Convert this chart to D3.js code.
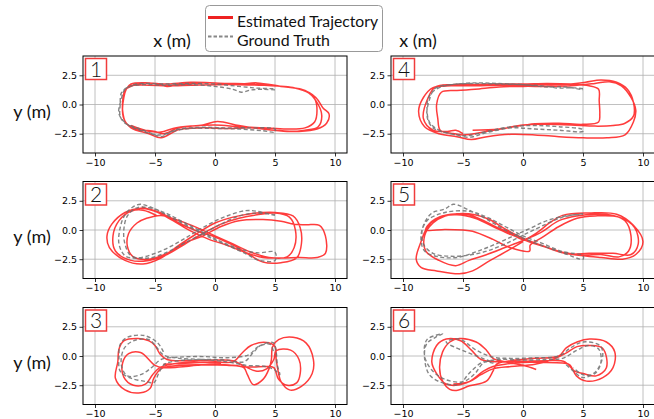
<!DOCTYPE html>
<html>
<head>
<meta charset="utf-8">
<script src="https://cdn.jsdelivr.net/npm/d3@7"></script>
<style>
  body { margin: 0; background: #fff; }
  svg { display: block; }
</style>
</head>
<body>
<svg id="chart" width="654" height="419"></svg>
<script>
// Axes ticks
const xTicks = [-10, -5, 0, 5, 10];
const yTicks = [-2.5, 0, 2.5];
const xDomain = [-11, 11];
const yDomain = [-4.15, 4.15];

const legendLabels = ["Estimated Trajectory", "Ground Truth"];

// Panel 1 - loop
const est1 = [[-7.3, 1.4], [-6.5, 1.75], [-5, 1.8], [-4, 1.55], [-3, 1.7], [-1, 1.85], [1, 1.8], [3, 1.75], [5, 1.6], [6.5, 1.45], [7.8, 1.0], [8.6, 0.0], [8.9, -1.0], [8.6, -1.9], [7.5, -2.2], [6, -2.3], [4, -2.1], [2, -1.8], [0.2, -1.45], [-1, -1.75], [-3, -2.0], [-4.3, -2.5], [-5, -2.3], [-6.5, -2.1], [-7.4, -1.6], [-7.7, -0.5], [-7.6, 0.6], [-7.4, 1.3],
  [-7.0, 1.75], [-5.5, 1.85], [-4.2, 1.75], [-2, 1.9], [0, 1.85], [2, 1.75], [3.5, 1.85], [5.5, 1.55], [7.2, 1.3], [8.4, 0.6], [9.0, -0.3], [9.5, -0.8], [9.3, -1.6], [8.5, -2.1], [7, -2.3], [5, -2.2], [3, -2.0], [1, -2.05], [-1, -2.0], [-3, -2.15], [-4.5, -2.85], [-5.5, -2.5], [-7, -2.0], [-7.6, -1.2], [-7.7, 0.2], [-7.5, 1.2],
  [-7.0, 1.6], [-5.5, 1.65], [-4, 1.6], [-2, 1.65], [0, 1.7], [2, 1.7], [4, 1.65], [6, 1.5], [7.5, 1.2], [8.3, 0.5], [8.5, -0.5], [8.3, -1.5], [7.5, -2.0], [6, -2.1], [4, -2.0], [2, -1.9], [0, -1.75], [-2, -1.85], [-3.5, -2.05], [-4.5, -2.35], [-5.5, -2.3], [-7.0, -1.8]];
const gt1 = [[5, 1.25], [4, 1.3], [3, 1.25], [2.2, 1.05], [1.5, 1.3], [0, 1.55], [-2, 1.7], [-4, 1.65], [-6, 1.7], [-7.2, 1.5], [-7.8, 1.0], [-7.9, 0], [-7.9, -1.0], [-7.5, -1.6], [-6.5, -2.0], [-5.2, -2.5], [-4.5, -2.75], [-3.5, -2.3], [-2, -2.05], [0, -2.05], [2, -2.1], [4, -2.25], [5, -2.35],
  [5, -2.1], [3, -2.0], [1, -2.0], [-1, -1.95], [-3, -2.1], [-4.5, -2.6], [-6, -2.3], [-7.3, -1.7], [-8.0, -0.8], [-7.8, 0.5], [-7.5, 1.3], [-6.5, 1.75], [-4, 1.75], [-2, 1.8], [0, 1.75], [2, 1.55], [3.5, 1.4], [5, 1.35]];

// Panel 2 - figure eight
const est2 = [[-6.1, 1.95], [-4.6, 1.5], [-3, 0.6], [-1.5, -0.1], [0, -0.6], [1.5, -1.3], [3, -2.2], [4, -2.75], [5.5, -2.8], [6.8, -2.4], [7.2, -1.2], [7.1, 0.2], [6.5, 1.2], [5, 1.5], [3, 1.4], [1.5, 1.1], [0, 0.6], [-1.5, -0.3], [-3, -1.3], [-4.5, -2.4], [-6, -2.9], [-7.5, -2.6], [-8.8, -1.5], [-9, -0.5], [-8.6, 0.5], [-7.5, 1.5], [-6.3, 1.85], [-5, 1.6], [-3.5, 0.8], [-2, -0.1], [-0.5, -0.8], [1, -1.3], [2.5, -1.9], [4, -2.35], [5.5, -2.4], [7, -2.35], [8.5, -2.35], [9.2, -2.0], [9.2, -0.5], [8.7, 0.4], [7.6, 0.45], [6.6, 0.5], [5.5, 0.75], [4, 0.9], [2, 0.8], [0.5, 0.3], [-1, -0.5], [-2.5, -1.1], [-4, -2.0], [-5.5, -2.5], [-6.8, -2.3], [-7.3, -1.4], [-7.2, -0.3], [-6.5, 0.6], [-5.7, 1.0], [-4.5, 1.25], [-3, 0.8], [-1.5, 0.2], [0, -0.5], [1.5, -1.2], [3, -1.9], [4.5, -2.35], [6, -2.3], [6.6, -1.5], [6.7, 0], [6.2, 1.1], [5, 1.45], [3.5, 1.3], [2, 1.0], [0.5, 0.5], [-1, -0.3], [-2.5, -1.2], [-4, -2.1], [-5.5, -2.6], [-7, -2.6], [-8.3, -1.8], [-8.5, -0.5], [-8.0, 0.8], [-7, 1.6], [-6, 1.7], [-4.8, 1.2]];
const gt2 = [[5, 1.25], [3.5, 1.6], [2.5, 1.65], [1, 1.2], [-0.5, 0.5], [-2, -0.4], [-3.5, -1.3], [-5, -2.0], [-6.5, -2.4], [-7.5, -2.2], [-8, -1.2], [-7.9, 0.2], [-7.5, 1.3], [-6.8, 2.0], [-6.2, 2.2], [-5, 1.8], [-3.5, 1.0], [-2, 0.2], [-0.5, -0.6], [1, -1.3], [2.5, -2.0], [3.7, -2.6], [5, -2.6],
  [5, -1.9], [3.5, -1.95], [2, -1.6], [0.5, -1.0], [-1, -0.2], [-2.5, 0.6], [-4, 1.4], [-5.5, 1.9], [-6.5, 1.9], [-7.3, 1.2], [-7.6, 0], [-7.5, -1.2], [-7, -2.2], [-5.5, -2.4], [-4, -1.9], [-2.5, -1.1], [-1, -0.3], [0.5, 0.5], [2, 1.2], [3.5, 1.45], [5, 1.3]];

// Panel 3 - dumbbell
const est3 = [[-4.3, -0.7], [-2, -0.6], [0, -0.5], [1.5, -0.5], [2.3, 0.3], [3, 0.9], [4.3, 1.15], [5.0, 0.8], [5.1, -0.3], [5.3, -1.5], [5.5, -2.2], [6.2, -2.9], [7.2, -2.6], [8.1, -1.5], [8.2, -0.3], [7.6, 1.1], [6.5, 1.6], [5.3, 1.4], [4.8, 0.8], [4.7, -0.3], [4.5, -1.1], [4.0, -2.0], [3.2, -2.45], [2.7, -1.6], [2.4, -1.0], [1, -0.8], [-1, -0.75], [-3, -0.8], [-4.5, -1.1], [-5.1, -1.9], [-5.4, -2.75], [-6.2, -3.15], [-7.5, -2.9], [-8.3, -1.9], [-8.1, -0.5], [-8, 0.6], [-7.6, 1.3], [-6.4, 1.5], [-5.5, 1.3], [-5, 0.9], [-4.6, 0.2], [-4, -0.3], [-2, -0.4], [0, -0.35], [1.5, -0.4], [2.5, -0.9], [3.5, -1.3], [4.3, -1.1], [4.9, -0.3], [5.1, 0.45], [6.3, 0.5], [7.0, -0.3], [7.1, -1.5], [6.8, -2.3], [6.0, -2.5], [5.3, -2.0], [4.9, -1.0], [4.2, -0.9], [3, -0.95], [1.5, -0.8], [0, -0.7], [-1.5, -0.8], [-3, -0.95], [-4.3, -1.0], [-5.0, -0.8], [-6.2, 0.3], [-7.2, 0.2], [-7.7, -0.6], [-7.6, -1.8], [-6.8, -2.5], [-5.8, -2.4], [-5.2, -1.6], [-4.6, -1.0], [-3, -0.6], [-1, -0.55], [0.5, -0.6]];
const gt3 = [[-4.3, 0.35], [-4.8, 1.15], [-5.9, 1.75], [-7.3, 1.6], [-7.9, 1.0], [-8, 0], [-7.9, -1.3], [-7, -1.9], [-5.65, -2.2], [-5.1, -2.3], [-4.7, -1.5], [-4.2, -0.7], [-3, -0.4], [-1, -0.3], [1, -0.35], [2.4, -0.5], [3.2, 0.3], [3.8, 0.9], [4.85, 1.15], [5.1, 0.3], [5.2, -0.8], [5.4, -1.6], [5.0, -1.2], [4.2, -0.9], [2.6, -0.8], [1, -0.5], [-1, -0.3], [-3, -0.2], [-4.3, 0.1], [-4.9, 0.8], [-5.5, 1.4], [-6.8, 1.3], [-7.6, 0.6], [-7.8, -0.8], [-7.3, -1.7], [-6.2, -1.6], [-5.3, -1.0], [-4.5, -0.3], [-3, -0.1], [-1, -0.05], [1, -0.15], [2.8, 0.1], [3.6, 0.8], [4.6, 1.0], [4.9, 0.2]];

// Panel 4 - loop
const est4 = [[-4.2, -2.2], [-2, -2.1], [0, -1.75], [2, -1.7], [4, -1.75], [6, -1.85], [7.5, -1.8], [8.5, -1.6], [9.2, -1.0], [9.2, 0.2], [8.7, 1.3], [7.8, 1.9], [6.5, 2.1], [5.2, 1.9], [4, 1.75], [2, 1.7], [0, 1.65], [-2, 1.65], [-4, 1.6], [-6, 1.6], [-7.5, 1.45], [-8.3, 0.6], [-8.7, -0.6], [-8.2, -1.9], [-7, -2.5], [-5.5, -2.75], [-4.3, -3.0], [-3, -2.75], [-1, -2.55], [1, -2.6], [3, -2.75], [5, -2.85], [7, -2.85], [8.5, -2.6], [9.2, -1.5], [9.4, -0.5], [9.0, 0.6], [8.2, 1.6], [7.2, 1.95], [6, 1.8], [4, 1.6], [2, 1.55], [0, 1.55], [-2, 1.5], [-4, 1.3], [-5.5, 1.2], [-6.8, 1.05], [-7.2, 0], [-7.1, -1.2], [-6.9, -2.2], [-6.0, -2.45], [-5, -2.6], [-3, -2.3], [-1, -1.95], [1, -1.65], [3, -1.6], [5, -1.7], [6.3, -1.5], [6.4, -0.8], [6.35, 0.3], [6.3, 1.3], [5.5, 1.6], [4, 1.75], [2, 1.8], [0, 1.75], [-2, 1.75], [-4, 1.7], [-6, 1.7], [-7.3, 1.5], [-7.9, 0.6], [-8.3, -1.2], [-7.5, -2.2], [-6.3, -2.3], [-5.6, -2.2], [-5, -2.5]];
const gt4 = [[5, 1.35], [4, 1.45], [3, 1.4], [2, 1.55], [0, 1.7], [-2, 1.75], [-4, 1.8], [-5.5, 1.75], [-6.5, 1.6], [-7.4, 1.2], [-7.9, 0.5], [-8, -0.3], [-7.8, -1.5], [-7, -2.2], [-5.5, -2.6], [-4.5, -2.65], [-3, -2.3], [-1, -1.9], [1, -1.8], [3, -1.9], [5, -2.15],
  [5, -2.3], [3, -2.2], [1, -2.1], [-1, -2.0], [-3, -2.4], [-4.5, -2.8], [-6, -2.5], [-7.5, -2.0], [-8, -1.0], [-7.8, 0.4], [-7.3, 1.4], [-6, 1.7], [-4, 1.85], [-2, 1.8], [0, 1.7], [2, 1.5], [3.5, 1.5], [5, 1.25]];

// Panel 5 - figure eight
const est5 = [[0, -1.0], [-1.5, -1.9], [-2.8, -2.65], [-4.2, -3.5], [-5.3, -3.75], [-7.2, -3.5], [-8.5, -3.2], [-8.9, -2.5], [-8.5, -1.0], [-8.0, 0.2], [-7.2, 1.0], [-6, 1.35], [-4.5, 1.3], [-3.5, 0.9], [-2.5, 0.4], [-1, -0.3], [0, -0.8], [1.2, -0.2], [2.2, 0.6], [3.3, 1.25], [5.5, 1.45], [7.8, 1.35], [9.2, 0.4], [10, -1.0], [9.4, -2.1], [8.3, -2.5], [6.5, -2.35], [5, -2.2], [3.3, -1.95], [1.5, -1.3], [0, -0.7], [-1.5, 0.1], [-2.8, 0.9], [-4, 1.3], [-5.3, 1.4], [-6.5, 1.2], [-7.5, 0.6], [-8.2, -0.5], [-8.1, -1.8], [-7, -2.6], [-5.6, -3.05], [-4.5, -2.6], [-3.3, -2.2], [-1.5, -1.5], [0, -0.9], [1.5, -0.2], [3, 0.8], [4.5, 1.2], [6, 1.35], [7.5, 1.25], [8.5, 0.8], [9.0, -0.5], [8.8, -1.8], [8, -2.3], [6.5, -2.1], [5, -2.15], [3.5, -1.95], [2, -1.5], [0.5, -1.0], [-1, -0.4], [-2.5, 0.3], [-4, 1.0], [-5.5, 1.3], [-7, 1.1], [-8, 0.3], [-8.1, 0.0], [-6.5, 0.05], [-5, 0.0], [-4.2, -0.1], [-2.5, -0.8], [-1.1, -1.5], [0.55, -1.8], [0.6, -1.3], [1.5, -0.7], [3, 0.3], [4.5, 1.0], [6, 1.2], [8, 1.1], [9.3, 0.2], [9.6, -1.2], [9.0, -2.1], [7.5, -2.0], [5.5, -2.0], [4, -2.1]];
const gt5 = [[5, 1.4], [3.3, 1.1], [1.5, 0.3], [0, -0.45], [-1.5, -1.2], [-3, -1.8], [-4.5, -2.15], [-6, -2.25], [-7.5, -2.0], [-8.3, -1.2], [-8.4, 0], [-8.0, 1.0], [-7.5, 1.5], [-6.5, 1.8], [-5.8, 2.2],
  [-4.4, 1.65], [-3, 0.9], [-1.5, 0.0], [0, -0.7], [1.5, -1.3], [3.3, -1.95], [5, -2.5],
  [5, -2.2], [3.3, -1.85], [1.5, -1.1], [0, -0.5], [-1.5, 0.3], [-3, 1.1], [-4.5, 1.6], [-6.5, 1.5], [-8, 0.8], [-8.5, -0.5], [-8.2, -1.8], [-7, -2.3], [-5.5, -2.35], [-4, -1.9], [-2.5, -1.3], [-1, -0.6], [0.5, 0.1], [2, 0.8], [3.5, 1.2], [5, 1.35]];

// Panel 6 - dumbbell
const est6 = [[1.1, -1.15], [0, -0.8], [-1.5, -0.5], [-2.5, -0.2], [-3.05, 0.5], [-3.9, 1.2], [-5.3, 1.5], [-6.1, 1.2], [-6.7, 0.35], [-6.95, -1.0], [-6.7, -2.15], [-6.1, -2.85], [-5.55, -2.95], [-4.45, -2.55], [-3.05, -2.15], [-2.5, -1.3], [-2.2, -0.7], [-1, -0.4], [1, -0.2], [3, 0.0], [3.6, 0.7], [4.5, 1.2], [5.55, 1.45], [6.95, 1.2], [7.65, 0.35], [7.5, -1.0], [6.65, -1.85], [5.3, -2.15], [4.45, -1.7], [3.9, -0.75], [3.3, -0.6], [1.5, -0.55], [0, -0.55], [-1.5, -0.7], [-2.5, -0.9], [-3.3, -1.3], [-4.7, -2.3], [-6.4, -2.4], [-7.2, -1.5], [-7.6, -0.5], [-7.2, 0.9], [-6.4, 1.45], [-5.2, 1.3], [-4.3, 0.5], [-3.5, -0.3], [-2, -0.5], [0, -0.45], [2, -0.4], [3.5, -0.5], [4.3, -1.3], [5, -1.5], [6.1, -1.7], [6.95, -1.0], [6.65, 0.65], [5.55, 0.9], [4.5, 0.8], [3.5, 0.2], [2.5, -0.3], [1, -0.7], [-1, -0.9], [-2.5, -1.1], [-3.5, -1.6], [-4.5, -2.2], [-5.8, -2.4]];
const gt6 = [[3.6, -0.75], [4.2, -1.3], [5, -1.85], [6.1, -1.3], [6.65, 0.1], [6.4, 0.9], [5, 1.2], [3.9, 0.65], [3, 0.0], [1, -0.15], [-1, -0.2], [-2.5, -0.1], [-3.9, 0.5], [-5.3, 1.45], [-6.4, 1.2],
  [-2.5, -0.6], [-3.3, -0.5], [-4.5, -1.5], [-5.3, -2.4], [-6.7, -2.3], [-7.8, -1.6], [-8.2, -0.2], [-8.05, 1.0], [-7.3, 1.6], [-6.7, 1.9],
  [-8.0, 1.4], [-8.2, 0], [-7.6, -1.2], [-6.5, -2.0], [-5, -2.2], [-4, -1.5], [-3.3, -0.6], [-2, -0.3], [0, -0.35], [2, -0.3], [3.3, -0.2], [4.5, 0.5], [5.5, 0.9], [6.3, 0.6], [6.5, -0.5], [6, -1.5], [5, -1.6], [4.2, -1.0]];

const panelIds = ["1", "2", "3", "4", "5", "6"];
const estimated = [est1, est2, est3, est4, est5, est6];
const groundTruth = [gt1, gt2, gt3, gt4, gt5, gt6];

// layout
const colLeft = [83, 391];
const rowTop = [56, 181.5, 307.5];
const pw = 264, ph = 97;

const svg = d3.select("#chart");
const x = d3.scaleLinear().domain(xDomain).range([0, pw]);
const y = d3.scaleLinear().domain(yDomain).range([ph, 0]);
const line = d3.line().x(d => x(d[0])).y(d => y(d[1])).curve(d3.curveCatmullRom.alpha(0.5));
const fmtY = d => d3.format(".1f")(d).replace("-", "\u2212");
const fmtX = d => String(d).replace("-", "\u2212");

panelIds.forEach((id, i) => {
    const col = Math.floor(i / 3), row = i % 3;
    const g = svg.append("g").attr("transform", `translate(${colLeft[col]},${rowTop[row]})`);

    g.append("clipPath").attr("id", "clip" + i)
        .append("rect").attr("width", pw).attr("height", ph);

    // grid
    g.selectAll(".gx").data(xTicks).join("line")
        .attr("x1", d => x(d)).attr("x2", d => x(d))
        .attr("y1", 0).attr("y2", ph)
        .attr("stroke", "#b0b0b0").attr("stroke-width", 0.8);
    g.selectAll(".gy").data(yTicks).join("line")
        .attr("class", "gy")
        .attr("x1", 0).attr("x2", pw)
        .attr("y1", d => y(d)).attr("y2", d => y(d))
        .attr("stroke", "#b0b0b0").attr("stroke-width", 0.8);

    const plot = g.append("g").attr("clip-path", `url(#clip${i})`);
    plot.append("path").datum(estimated[i])
        .attr("d", line)
        .attr("fill", "none")
        .attr("stroke", "#ff1a1a")
        .attr("stroke-opacity", 0.85)
        .attr("stroke-width", 1.5);
    plot.append("path").datum(groundTruth[i])
        .attr("d", line)
        .attr("fill", "none")
        .attr("stroke", "#707070")
        .attr("stroke-opacity", 0.85)
        .attr("stroke-width", 1.4)
        .attr("stroke-dasharray", "4,2.5");

    // axes
    const xAxis = d3.axisBottom(x).tickValues(xTicks).tickFormat(fmtX).tickSizeOuter(0).tickSize(3.5).tickPadding(2.5);
    const yAxis = d3.axisLeft(y).tickValues(yTicks).tickFormat(fmtY).tickSizeOuter(0).tickSize(3.5).tickPadding(2.5);
    const ax = g.append("g").attr("transform", `translate(0,${ph})`).call(xAxis);
    const ay = g.append("g").call(yAxis);
    [ax, ay].forEach(a => {
        a.select(".domain").remove();
        a.selectAll("line").attr("stroke", "#000").attr("stroke-width", 0.8);
        a.selectAll("text").attr("font-family", "DejaVu Sans").attr("font-size", 9.5).attr("fill", "#000");
    });

    g.append("rect").attr("width", pw).attr("height", ph)
        .attr("fill", "none").attr("stroke", "#000").attr("stroke-width", 1);

    // panel number
    g.append("rect").attr("x", 2.5).attr("y", 2.5).attr("width", 21).attr("height", 21)
        .attr("fill", "#fff").attr("stroke", "#f03c3c").attr("stroke-width", 1.5);
    g.append("text").attr("x", 13).attr("y", 20.5)
        .attr("text-anchor", "middle")
        .attr("font-family", "Lato, 'Open Sans', sans-serif")
        .attr("font-weight", 300)
        .attr("font-size", 21)
        .attr("fill", "#111")
        .text(id);

    if (col === 0) {
        svg.append("text").attr("x", 32).attr("y", rowTop[row] + ph / 2 + 13)
            .attr("text-anchor", "middle")
            .attr("font-family", "Lato, 'Open Sans', sans-serif")
            .attr("font-size", 18)
            .attr("fill", "#111")
            .text("y (m)");
    }
});

// column titles
[172, 418].forEach(cx => {
    svg.append("text").attr("x", cx).attr("y", 47)
        .attr("text-anchor", "middle")
        .attr("font-family", "Lato, 'Open Sans', sans-serif")
        .attr("font-size", 18)
        .attr("fill", "#111")
        .text("x (m)");
});

// legend
const lg = svg.append("g");
lg.append("rect").attr("x", 205.5).attr("y", 5.5).attr("width", 177).attr("height", 46).attr("rx", 4)
    .attr("fill", "#fff").attr("stroke", "#999").attr("stroke-width", 1);
lg.append("line").attr("x1", 208).attr("x2", 233).attr("y1", 17.5).attr("y2", 17.5)
    .attr("stroke", "#ee2222").attr("stroke-width", 3);
lg.append("line").attr("x1", 208).attr("x2", 233).attr("y1", 36.5).attr("y2", 36.5)
    .attr("stroke", "#888").attr("stroke-width", 2).attr("stroke-dasharray", "3.5,2");
legendLabels.forEach((t, i) => {
    lg.append("text").attr("x", 237).attr("y", 26.5 + i * 19)
        .attr("font-family", "Lato, 'Open Sans', sans-serif")
        .attr("font-size", 15.5)
        .attr("textLength", i === 0 ? 141 : 93)
        .attr("lengthAdjust", "spacingAndGlyphs")
        .attr("fill", "#111")
        .text(t);
});
</script>
</body>
</html>
